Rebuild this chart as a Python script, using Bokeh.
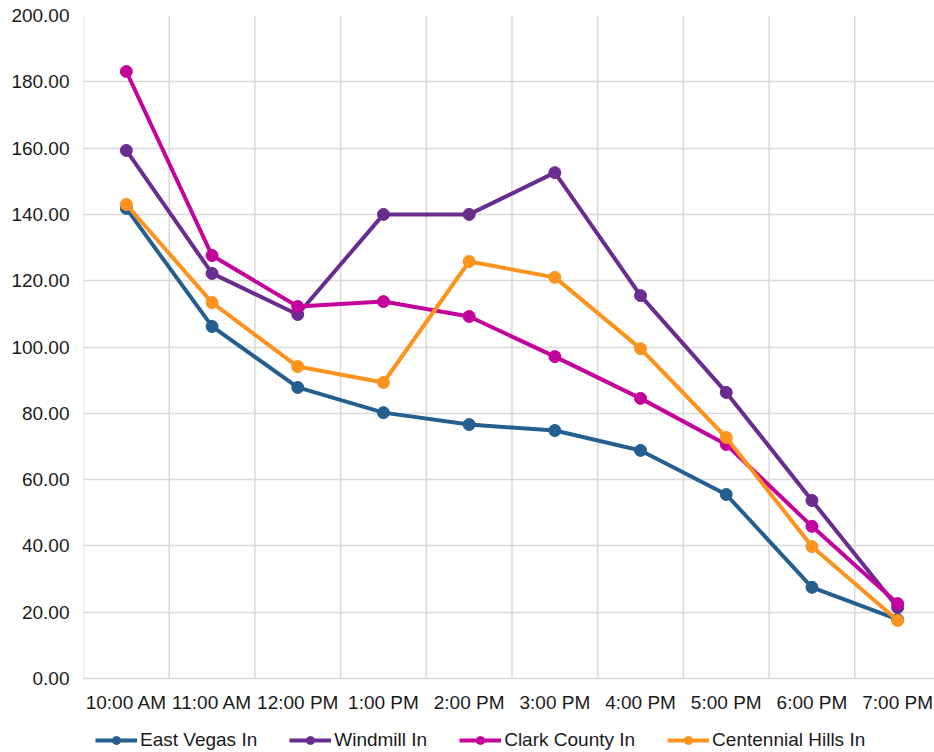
from bokeh.plotting import figure
from bokeh.models import FixedTicker, Range1d, NumeralTickFormatter, Legend, LegendItem
from bokeh.core.properties import value
from bokeh.embed import file_html
from bokeh.resources import INLINE

times = ["10:00 AM", "11:00 AM", "12:00 PM", "1:00 PM", "2:00 PM",
         "3:00 PM", "4:00 PM", "5:00 PM", "6:00 PM", "7:00 PM"]
east_vegas = [141.8, 106.2, 87.8, 80.2, 76.6, 74.8, 68.8, 55.5, 27.5, 17.8]
windmill = [159.3, 122.2, 109.8, 140.0, 140.0, 152.6, 115.5, 86.3, 53.7, 21.4]
clark_county = [183.1, 127.6, 112.2, 113.7, 109.2, 97.1, 84.5, 70.6, 45.9, 22.6]
centennial = [143.0, 113.4, 94.1, 89.3, 125.8, 121.0, 99.5, 72.7, 39.8, 17.5]
y_ticks = [0, 20, 40, 60, 80, 100, 120, 140, 160, 180, 200]

series = [
    ("East Vegas In", east_vegas, "#245f8f"),
    ("Windmill In", windmill, "#6a2c8f"),
    ("Clark County In", clark_county, "#c4029c"),
    ("Centennial Hills In", centennial, "#fb931e"),
]

n = len(times)
xs = [i + 0.5 for i in range(n)]
bounds = list(range(n + 1))
ymin, ymax = y_ticks[0], y_ticks[-1]
FONT = "Liberation Sans"
FS = "19px"
GRID = "#d9d9d9"
TXT = "#1a1a1a"

# frame extends below the value axis to hold the category labels and legend
FRAME_H = 737
PLOT_H = 663
y_lo = ymin - (ymax - ymin) * (FRAME_H - PLOT_H) / PLOT_H

p = figure(frame_width=851, frame_height=FRAME_H, output_backend="svg", toolbar_location=None,
           x_range=Range1d(0, 9.93), y_range=Range1d(y_lo, ymax),
           min_border_left=83, min_border_top=15, min_border_right=0, min_border_bottom=0)
p.outline_line_color = None
p.xaxis.visible = False
p.xgrid.visible = False

p.yaxis.ticker = FixedTicker(ticks=y_ticks)
p.yaxis.formatter = NumeralTickFormatter(format="0.00")
p.yaxis.major_tick_line_color = None
p.yaxis.minor_tick_line_color = None
p.yaxis.major_tick_out = 0
p.yaxis.major_tick_in = 0
p.yaxis.major_label_text_font = FONT
p.yaxis.major_label_text_font_size = FS
p.yaxis.major_label_text_color = TXT
p.yaxis.axis_line_color = None
p.yaxis.major_label_standoff = 14

p.ygrid.grid_line_color = GRID
p.ygrid.grid_line_width = 1.5

# vertical grid lines between categories
p.segment(x0=bounds, y0=[ymin] * len(bounds), x1=bounds, y1=[ymax] * len(bounds),
          line_color=GRID, line_width=1.5)

# category labels
p.text(x=xs, y=[ymin] * n, text=times, y_offset=24, text_align="center",
       text_baseline="middle", text_font=value(FONT), text_font_size=FS,
       text_color=TXT)

items = []
for name, vals, color in series:
    r1 = p.line(xs, vals, line_color=color, line_width=4)
    r2 = p.scatter(xs, vals, size=12, fill_color=color, line_color=color)
    items.append(LegendItem(label=name, renderers=[r1, r2]))

legend = Legend(items=items, orientation="horizontal", location=(12, 1),
                label_text_font=FONT, label_text_font_size=FS,
                label_text_color=TXT, border_line_color=None,
                background_fill_alpha=0,
                glyph_width=42, glyph_height=20, spacing=32, padding=0, margin=0,
                label_standoff=3)
p.add_layout(legend, "center")

open("out.html", "w").write(file_html(p, INLINE))
